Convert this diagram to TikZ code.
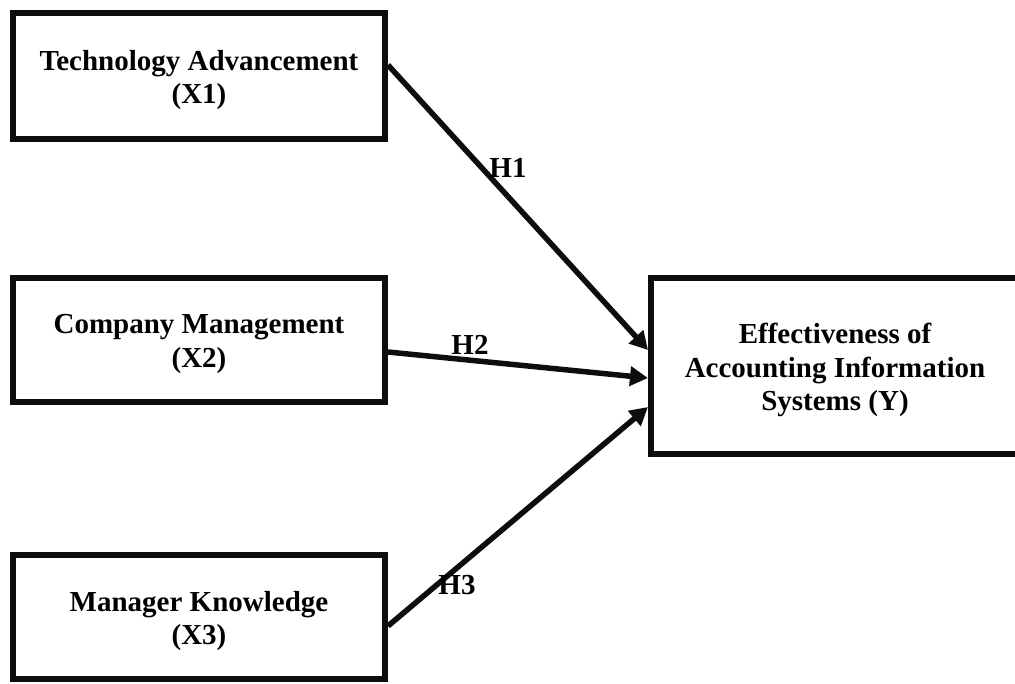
\documentclass[tikz,border=0pt]{standalone}
\usepackage{fontspec}
\setmainfont{Liberation Serif}
\usetikzlibrary{arrows.meta}
\begin{document}
\begin{tikzpicture}[x=1pt,y=-1pt,
  varbox/.style={draw=black!95, line width=6pt, inner sep=0pt},
  vartext/.style={align=center, inner sep=0pt,
    font=\fontsize{29}{33.5}\selectfont\bfseries},
  link/.style={line width=5.5pt, draw=black!95, -{Triangle[length=18pt,width=19pt]}},
  hlab/.style={font=\fontsize{29}{33.5}\selectfont\bfseries, inner sep=0pt}]
\useasboundingbox (0,0) rectangle (1015,684);
\node[varbox, minimum width=372pt, minimum height=126pt] (x1) at (199,76) {};
\node[varbox, minimum width=372pt, minimum height=124pt] (x2) at (199,340) {};
\node[varbox, minimum width=372pt, minimum height=124pt] (x3) at (199,617) {};
\node[varbox, minimum width=368pt, minimum height=176pt] (y) at (835,366) {};
\node[vartext] (x1t) at ([yshift=-4pt]x1.center) {Technology Advancement\\(X1)};
\node[vartext] (x2t) at ([yshift=-4pt]x2.center) {Company Management\\(X2)};
\node[vartext] (x3t) at ([yshift=-4pt]x3.center) {Manager Knowledge\\(X3)};
\node[vartext] (yt) at ([yshift=-4pt]y.center) {Effectiveness of\\Accounting Information\\Systems (Y)};
\draw[link] ([yshift=11pt]x1.east) -- ([yshift=16pt]y.west);
\draw[link] ([yshift=-12pt]x2.east) -- ([yshift=-12pt]y.west);
\draw[link] ([yshift=-9pt]x3.east) -- ([yshift=-41pt]y.west);
\node[hlab] (h1) at (508,168) {H1};
\node[hlab] (h2) at (470,345) {H2};
\node[hlab] (h3) at (457,585) {H3};
\end{tikzpicture}
\end{document}
